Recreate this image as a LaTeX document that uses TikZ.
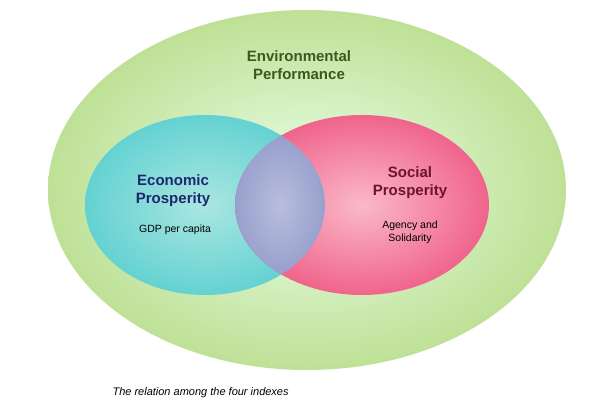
\documentclass[tikz,border=0pt]{standalone}
\usepackage{fontspec}
\setmainfont{Liberation Sans}
\begin{document}
\begin{tikzpicture}[x=1pt,y=-1pt,
  title/.style={font=\bfseries\fontsize{15}{18}\selectfont,align=center},
  sub/.style={font=\fontsize{10.5}{13}\selectfont,align=center}]
\useasboundingbox (0,0) rectangle (600,406);
\fill[white] (0,0) rectangle (600,406);
\shade[inner color=green!8!white, outer color={rgb,255:red,190;green,225;blue,150}] (307,190) ellipse [x radius=259, y radius=180];
\shade[inner color={rgb,255:red,170;green,230;blue,225}, outer color={rgb,255:red,100;green,210;blue,210}] (205,205) ellipse [x radius=120, y radius=90];
\shade[inner color={rgb,255:red,250;green,185;blue,200}, outer color={rgb,255:red,240;green,100;blue,140}] (362,205) ellipse [x radius=127, y radius=90];
\begin{scope}
\clip (205,205) ellipse [x radius=120, y radius=90];
\clip (362,205) ellipse [x radius=127, y radius=90];
\shade[inner color={rgb,255:red,185;green,190;blue,220}, outer color={rgb,255:red,140;green,150;blue,200}] (280,205) ellipse [x radius=60, y radius=90];
\end{scope}
\node[title,text={rgb,255:red,60;green,90;blue,30}] (env) at (299,65) {Environmental\\Performance};
\node[title,text={rgb,255:red,30;green,40;blue,110}] (eco) at (173,191) {Economic\\Prosperity};
\node[sub] (gdp) at (175,230) {GDP per capita};
\node[title,text={rgb,255:red,110;green,20;blue,40}] (soc) at (410,183) {Social\\Prosperity};
\node[sub] (ag) at (410,232) {Agency and\\Solidarity};
\node[font=\itshape\fontsize{11}{13}\selectfont,anchor=west] (cap) at (109,393) {The relation among the four indexes};
\end{tikzpicture}
\end{document}
